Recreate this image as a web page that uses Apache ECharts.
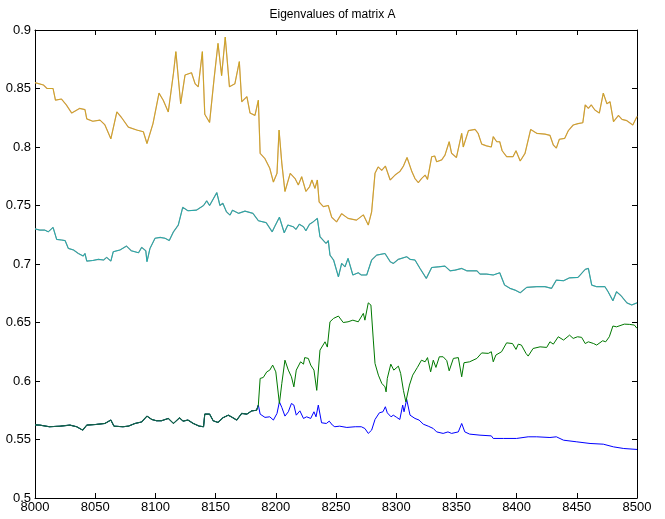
<!DOCTYPE html>
<html>
<head>
<meta charset="utf-8">
<script src="https://cdn.jsdelivr.net/npm/echarts@6/dist/echarts.min.js"></script>
<style>html,body{margin:0;padding:0;background:#fff;}#c{width:665px;height:519px;}</style>
</head>
<body>
<div id="c"></div>
<script>
const titleText = "Eigenvalues of matrix A";
const xTicks = {min: 8000, max: 8500, step: 50};
const yTicks = {min: 0.5, max: 0.9, step: 0.05};

// top pair (complex conjugate eigenvalues, same magnitude)
const gold = [[8000,0.855],[8007,0.853],[8010,0.850],[8015,0.850],[8017,0.840],[8022,0.841],[8026,0.836],[8030.5,0.829],[8037,0.833],[8041.5,0.832],[8043,0.824],[8048,0.822],[8054,0.823],[8058,0.819],[8063,0.807],[8068,0.830],[8072,0.825],[8077.5,0.817],[8084.5,0.8145],[8090,0.813],[8093,0.803],[8098,0.820],[8103,0.846],[8106.5,0.840],[8110.7,0.830],[8115,0.863],[8117,0.8815],[8118,0.881],[8121,0.837],[8124.6,0.8615],[8130,0.8635],[8133,0.854],[8135.6,0.8515],[8139,0.8815],[8141,0.828],[8145,0.821],[8148.7,0.858],[8152,0.8886],[8155,0.861],[8158,0.894],[8161.5,0.8515],[8166,0.854],[8169.7,0.873],[8171.7,0.8387],[8176,0.843],[8178.6,0.829],[8182.7,0.827],[8185.5,0.840],[8187,0.7946],[8191,0.790],[8195,0.7818],[8198,0.770],[8201,0.7775],[8202.7,0.8145],[8205,0.786],[8207.6,0.762],[8212,0.7775],[8216,0.773],[8218.7,0.7675],[8221.5,0.7746],[8225,0.762],[8228,0.766],[8230,0.7718],[8232.5,0.7646],[8234.5,0.7718],[8236,0.753],[8239.5,0.749],[8243.6,0.750],[8246.4,0.740],[8250.5,0.736],[8254.7,0.743],[8260,0.739],[8267,0.7375],[8272.7,0.742],[8276.8,0.7333],[8279.6,0.7446],[8282.4,0.7775],[8285,0.783],[8288,0.780],[8291,0.7837],[8295,0.7718],[8299,0.776],[8303,0.779],[8306,0.7837],[8309,0.791],[8313,0.779],[8315.6,0.773],[8318.4,0.7695],[8321,0.773],[8324,0.776],[8326,0.7723],[8329.5,0.7917],[8332,0.7923],[8333.6,0.7874],[8337.8,0.789],[8340.5,0.793],[8344,0.8045],[8346,0.7946],[8350,0.791],[8354.4,0.8117],[8355.7,0.800],[8360,0.814],[8365.5,0.815],[8368,0.8117],[8371,0.8025],[8375,0.801],[8379,0.800],[8380.6,0.8088],[8383.5,0.8045],[8386,0.8045],[8388,0.7968],[8391.7,0.7917],[8397,0.7917],[8399.5,0.7968],[8403,0.788],[8407,0.7946],[8411.7,0.815],[8416.7,0.8117],[8423.6,0.811],[8427.7,0.810],[8430.5,0.8017],[8433,0.799],[8435.5,0.8066],[8440,0.8074],[8443,0.814],[8447,0.8188],[8451,0.820],[8455,0.8207],[8457,0.836],[8459.6,0.833],[8462,0.836],[8465,0.8316],[8468.7,0.829],[8472,0.846],[8475,0.837],[8477.6,0.8387],[8480.5,0.8216],[8484.6,0.827],[8487.5,0.8236],[8491.6,0.8225],[8496.5,0.8188],[8500,0.826]];

// second pair
const teal = [[8000,0.730],[8004,0.729],[8008,0.729],[8011,0.7275],[8015,0.7313],[8018,0.721],[8022,0.7205],[8025,0.720],[8027.7,0.7133],[8032,0.712],[8036,0.709],[8040,0.7068],[8041.5,0.709],[8043,0.7025],[8048,0.703],[8052.6,0.704],[8057,0.7034],[8059.5,0.7057],[8063,0.7025],[8065,0.7105],[8070.6,0.712],[8076,0.7153],[8080,0.7113],[8086,0.7096],[8088.6,0.7142],[8092,0.7113],[8093,0.702],[8095.5,0.7133],[8099.7,0.722],[8104,0.7227],[8108,0.722],[8111.5,0.720],[8115,0.7275],[8119,0.7333],[8122.7,0.7484],[8127,0.7455],[8134,0.746],[8140,0.750],[8142.6,0.754],[8145,0.750],[8151,0.761],[8153.6,0.750],[8156,0.752],[8159,0.7446],[8162,0.7418],[8164,0.746],[8169,0.7433],[8174.4,0.7452],[8181,0.7433],[8185.5,0.737],[8192,0.7353],[8197,0.7275],[8199,0.7318],[8203,0.740],[8207,0.7267],[8210,0.7333],[8214.5,0.7318],[8216.8,0.7296],[8219.5,0.734],[8223,0.7318],[8225,0.7284],[8228,0.734],[8231,0.736],[8234.5,0.739],[8236.7,0.7233],[8241.7,0.7176],[8243.6,0.720],[8245,0.7076],[8248,0.7034],[8252,0.689],[8254.7,0.7005],[8257.5,0.6976],[8260,0.7048],[8264,0.6906],[8268.5,0.6925],[8271,0.6906],[8275.5,0.6906],[8279.6,0.7034],[8283.8,0.7076],[8290.7,0.709],[8295,0.702],[8297.6,0.7005],[8301.8,0.704],[8308.7,0.7062],[8311.5,0.704],[8315.6,0.7034],[8319.8,0.6962],[8325,0.6877],[8329.5,0.697],[8335,0.6976],[8340.5,0.6982],[8344.7,0.6942],[8349,0.6948],[8354.4,0.6962],[8358.6,0.6942],[8367,0.6942],[8369.6,0.6914],[8375,0.6914],[8380.6,0.6906],[8386,0.6925],[8390,0.682],[8394.5,0.6792],[8398.7,0.6777],[8403,0.6754],[8408.4,0.68],[8416.7,0.6806],[8423.6,0.6806],[8429,0.6792],[8433,0.6862],[8439,0.6857],[8444,0.6882],[8451,0.6885],[8457,0.6954],[8459.6,0.6962],[8462.4,0.682],[8466.5,0.6806],[8473.4,0.6806],[8476,0.6763],[8480,0.6686],[8483,0.6763],[8487,0.6726],[8491.6,0.6668],[8495.6,0.665],[8500,0.6668]];

// lower two eigenvalues: identical until they split near 8185
const lowShared = [[8000,0.5625],[8004,0.5623],[8012,0.5609],[8021,0.5614],[8029,0.5623],[8034.6,0.5609],[8039.6,0.558],[8043,0.5623],[8051,0.5629],[8058,0.5637],[8063,0.5666],[8065.6,0.5614],[8073,0.5609],[8077.5,0.5614],[8083,0.5637],[8088.6,0.565],[8093,0.570],[8097,0.5671],[8101,0.566],[8105,0.566],[8110.7,0.568],[8115,0.5637],[8120,0.5685],[8123,0.5657],[8127,0.5666],[8131.5,0.5637],[8136.5,0.5614],[8140,0.5609],[8141,0.5717],[8145,0.5717],[8148,0.566],[8152,0.5646],[8156,0.5685],[8160.5,0.5708],[8163,0.5694],[8167.5,0.5666],[8171.7,0.5723],[8176,0.5717],[8180,0.5745],[8184,0.575],[8185.5,0.5794]];

const greenAfter = [[8187,0.6022],[8189.6,0.603],[8192.5,0.6078],[8195,0.6093],[8197.4,0.6136],[8200,0.6078],[8203,0.5808],[8205,0.598],[8207.6,0.6178],[8210.4,0.6093],[8213,0.6036],[8215,0.595],[8217,0.6093],[8220.6,0.6164],[8223,0.6144],[8224,0.620],[8227,0.6193],[8229,0.6136],[8230.6,0.6136],[8231.7,0.6093],[8234,0.592],[8236.7,0.6264],[8240.9,0.6335],[8242.8,0.629],[8245,0.6506],[8248,0.6535],[8252,0.6555],[8256,0.650],[8260,0.6506],[8264,0.652],[8268.5,0.6506],[8272.7,0.6578],[8274,0.652],[8276.8,0.6668],[8279,0.6649],[8281,0.635],[8282.4,0.615],[8285.2,0.605],[8288,0.598],[8290.7,0.595],[8291.6,0.5907],[8292.6,0.6022],[8295.5,0.6144],[8298,0.6093],[8301.8,0.6127],[8303.7,0.6065],[8306,0.592],[8308,0.5822],[8311,0.5965],[8313.7,0.605],[8317.6,0.6116],[8321,0.6178],[8324,0.6164],[8326,0.620],[8328.6,0.6078],[8330.8,0.6178],[8333,0.6116],[8335.8,0.6207],[8339,0.6207],[8342,0.6174],[8344,0.6087],[8347.5,0.6193],[8351.6,0.620],[8354.4,0.6036],[8356.3,0.6156],[8361,0.6164],[8367,0.6193],[8371,0.624],[8376.5,0.6236],[8379,0.625],[8380.6,0.6164],[8382.8,0.6222],[8387.5,0.625],[8391.7,0.6326],[8396.6,0.632],[8399.5,0.627],[8401.4,0.6315],[8404,0.6307],[8407.8,0.6236],[8409.6,0.6213],[8413.7,0.6278],[8419.5,0.6292],[8425,0.6287],[8427.7,0.6335],[8430.5,0.6315],[8434.6,0.6378],[8439,0.635],[8444,0.6392],[8447,0.6364],[8450.6,0.6378],[8454,0.6373],[8457,0.632],[8459.6,0.6335],[8464,0.632],[8466.5,0.6307],[8471.5,0.6344],[8474,0.6335],[8477,0.6378],[8480,0.647],[8483,0.6463],[8489.5,0.6486],[8493.6,0.6484],[8497.8,0.6478],[8500,0.645]];

const blueAfter = [[8187,0.5717],[8191,0.5689],[8195,0.5694],[8198,0.5666],[8201,0.5723],[8203,0.5822],[8205,0.5774],[8207.6,0.570],[8210.4,0.5737],[8213,0.5808],[8215,0.5794],[8217,0.5708],[8220,0.5745],[8223,0.568],[8225.6,0.5694],[8229,0.568],[8231.7,0.5737],[8233.4,0.5694],[8235.3,0.5794],[8238,0.5643],[8242,0.5637],[8244.4,0.5657],[8247,0.5623],[8249,0.5609],[8253,0.5614],[8259,0.5603],[8266,0.5609],[8271,0.5609],[8274,0.5594],[8276.8,0.5552],[8279.6,0.558],[8282.4,0.5671],[8286,0.5728],[8289,0.5737],[8291,0.578],[8292.6,0.5728],[8295.7,0.5694],[8297.6,0.5708],[8300.4,0.5689],[8303,0.5671],[8305.4,0.5794],[8306.5,0.5737],[8308.7,0.5843],[8311.5,0.5708],[8315.6,0.568],[8319,0.5666],[8322.5,0.5631],[8326.6,0.5614],[8330.8,0.5594],[8333.6,0.5565],[8339,0.5552],[8343,0.5565],[8346,0.5552],[8351.6,0.5565],[8354.4,0.5637],[8357,0.5565],[8361,0.5546],[8369.6,0.5537],[8379,0.5531],[8380.6,0.5509],[8389,0.5509],[8400,0.5509],[8409.6,0.5523],[8416.7,0.5523],[8427.7,0.5517],[8433,0.5523],[8439,0.5494],[8450,0.548],[8461,0.5466],[8472,0.546],[8480.5,0.5437],[8489,0.5423],[8500,0.5415]];

const FONT = "'Liberation Sans', Arial, Helvetica, sans-serif";
const chart = echarts.init(document.getElementById('c'), null, {renderer: 'canvas'});

function axisCommon(show) {
  return {
    axisLine: {show: true, onZero: false, lineStyle: {color: '#000', width: 1}},
    axisTick: {show: true, inside: true, length: 5, lineStyle: {color: '#000', width: 1}},
    axisLabel: {show: show, color: '#000', fontSize: 13, fontFamily: FONT},
    splitLine: {show: false}
  };
}
function xAx(pos, show) {
  const a = axisCommon(show);
  a.axisLabel.margin = 3;
  a.axisLabel.formatter = function (v) { return String(v); };
  return Object.assign({type: 'value', position: pos, min: xTicks.min, max: xTicks.max, interval: xTicks.step}, a);
}
function yAx(pos, show) {
  const a = axisCommon(show);
  a.axisLabel.margin = 4;
  a.axisLabel.formatter = function (v) { return String(+v.toFixed(2)); };
  return Object.assign({type: 'value', position: pos, min: yTicks.min, max: yTicks.max, interval: yTicks.step}, a);
}
function line(data, color, width, z, opacity) {
  return {type: 'line', data: data, showSymbol: false, symbol: 'none', z: z,
    xAxisIndex: 0, yAxisIndex: 0,
    lineStyle: {color: color, width: width, opacity: opacity == null ? 1 : opacity},
    emphasis: {disabled: true}};
}

chart.setOption({
  animation: false,
  backgroundColor: '#fff',
  title: {text: titleText, left: 'center', top: 4,
    textStyle: {fontSize: 12, fontWeight: 'normal', color: '#000', fontFamily: FONT}},
  grid: {left: 35, right: 28, top: 30, bottom: 21, containLabel: false},
  xAxis: [xAx('bottom', true), xAx('top', false)],
  yAxis: [yAx('left', true), yAx('right', false)],
  series: [
    line(gold, '#d49c72', 1.2, 2),
    line(gold, '#c8a800', 0.8, 3, 0.8),
    line(teal, '#909c9c', 1.2, 2),
    line(teal, '#15aaaa', 0.9, 3),
    line(lowShared.concat(blueAfter), '#0000ff', 1.0, 2),
    line(lowShared.concat(greenAfter), '#007800', 1.0, 3),
    line(lowShared, '#13604c', 1.1, 4)
  ]
});
</script>
</body>
</html>
